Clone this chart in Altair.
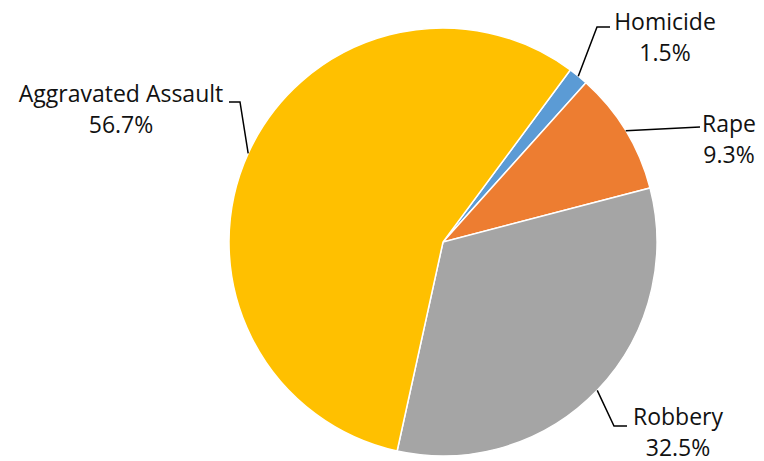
import math
import altair as alt
import pandas as pd

# ---- data ----
categories = ["Homicide", "Rape", "Robbery", "Aggravated Assault"]
shares = [1.5, 9.3, 32.5, 56.7]
pct_labels = ["1.5%", "9.3%", "32.5%", "56.7%"]
colors = ["#5B9BD5", "#ED7D31", "#A5A5A5", "#FFC000"]

# ---- layout ----
W, H = 748, 458
CX, CY, R = 435, 234, 214
START = math.radians(36.5)
FONT = "Open Sans"
FS = 23
# elbow / end points of leader lines (pixel), text centre x and name baseline
elbows = [[(589, 19), (602, 19)], [(692, 119)], [(606, 418), (619, 418)], [(232, 94), (221, 94)]]
text_pos = [(657, 22), (721, 124), (670, 417), (113, 94)]
LINE_GAP = 31

df = pd.DataFrame({"category": categories, "value": shares, "order": range(len(categories))})

# leader lines start at slice edge at mid angle
total = sum(shares)
rows = []
cum = 0.0
for i, (cat, v) in enumerate(zip(categories, shares)):
    mid = START + 2 * math.pi * (cum + v / 2) / total
    cum += v
    sx = CX + R * math.sin(mid)
    sy = CY - R * math.cos(mid)
    pts = [(sx, sy)] + elbows[i]
    for j, (px, py) in enumerate(pts):
        rows.append({"label": cat, "seq": j, "x": px, "y": py})
lines_df = pd.DataFrame(rows)

txt_rows = []
for i, cat in enumerate(categories):
    tx, ty = text_pos[i]
    txt_rows.append({"x": tx, "y": ty, "t": cat})
    txt_rows.append({"x": tx, "y": ty + LINE_GAP, "t": pct_labels[i]})
txt_df = pd.DataFrame(txt_rows)

xs = alt.Scale(domain=[0, W], nice=False, zero=False)
ys = alt.Scale(domain=[0, H], nice=False, zero=False, reverse=True)

arc = alt.Chart(df).mark_arc(radius=R, stroke="white", strokeWidth=1.5).encode(
    theta=alt.Theta("value:Q", stack=True, scale=alt.Scale(range=[START, START + 2 * math.pi])),
    color=alt.Color("category:N", scale=alt.Scale(domain=categories, range=colors), legend=None),
    order=alt.Order("order:Q"),
    x=alt.value(CX),
    y=alt.value(CY),
)

lines = alt.Chart(lines_df).mark_line(color="#000000", strokeWidth=1.5).encode(
    x=alt.X("x:Q", scale=xs, axis=None),
    y=alt.Y("y:Q", scale=ys, axis=None),
    detail="label:N",
    order="seq:Q",
)

texts = alt.Chart(txt_df).mark_text(
    font=FONT, fontSize=FS, color="#111111", align="center", baseline="alphabetic"
).encode(
    x=alt.X("x:Q", scale=xs, axis=None),
    y=alt.Y("y:Q", scale=ys, axis=None),
    text="t:N",
)

chart = alt.layer(arc, lines, texts).properties(
    width=W, height=H, autosize="none", padding=0
).configure_view(stroke=None)

chart.save("out.html", embed_options={"renderer": "svg", "actions": False})
